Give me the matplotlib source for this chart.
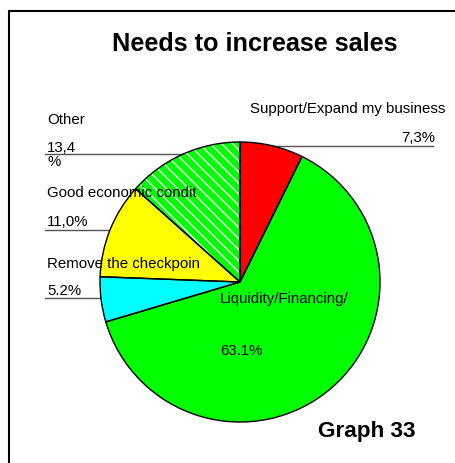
import matplotlib
matplotlib.use('Agg')
import matplotlib.pyplot as plt
from matplotlib.patches import Rectangle

plt.rcParams['font.family'] = ['Liberation Sans', 'DejaVu Sans']
plt.rcParams['hatch.linewidth'] = 1.0

# slices, clockwise from 12 o'clock
labels = ['Support/Expand my business', 'Liquidity/Financing/', 'Remove the checkpoin',
          'Good economic condit', 'Other']
values = [7.3, 63.1, 5.2, 11.0, 13.4]
dec_sep = [',', '.', '.', ',', ',']
colors = ['#FF0000', '#00FF00', '#00FFFF', '#FFFF00', '#00FF00']

W, H = 455, 463
fig = plt.figure(figsize=(W / 100, H / 100), dpi=100)
ax = fig.add_axes([0, 0, 1, 1])

def py(y):
    # pixel row -> data y
    return H - y

cx, cy, r = 240, py(282), 140

def pct(i):
    return ('%.1f' % values[i]).replace('.', dec_sep[i]) + '%'

# leader lines go under the pie
line_kw = dict(color='#555555', lw=1.0, zorder=1)
ax.plot([240, 433], [py(146), py(146)], **line_kw)
ax.plot([45, cx], [py(154), py(154)], **line_kw)
ax.plot([45, cx], [py(230), py(230)], **line_kw)
ax.plot([45, cx], [py(298), py(298)], **line_kw)

wedges, _ = ax.pie(values, colors=colors, startangle=90, counterclock=False,
                   center=(cx, cy), radius=r, frame=True,
                   wedgeprops=dict(linewidth=0))
for w in wedges:
    w.set_zorder(2)
wedges[4].set_hatch('\\\\\\')
wedges[4].set_edgecolor('white')

outline, _ = ax.pie(values, colors=['none'] * 5, startangle=90, counterclock=False,
                    center=(cx, cy), radius=r, frame=True,
                    wedgeprops=dict(linewidth=1.0, edgecolor='black', fill=False))
for w in outline:
    w.set_zorder(3)

fs = 10.8
tk = dict(fontsize=fs, color='black', va='baseline', zorder=4)
ax.text(250, py(113), labels[0], ha='left', **tk)
ax.text(435, py(142), pct(0), ha='right', **tk)
ax.text(47, py(124), labels[4], ha='left', **tk)
ax.text(47, py(152), pct(4)[:-1], ha='left', **tk)
ax.text(47, py(166), '%', ha='left', **tk)
ax.text(47, py(197), labels[3], ha='left', **tk)
ax.text(47, py(226), pct(3), ha='left', **tk)
ax.text(47, py(268), labels[2], ha='left', **tk)
ax.text(47, py(295), pct(2), ha='left', **tk)
ax.text(220, py(303), labels[1], ha='left', **tk)
ax.text(220, py(355), pct(1), ha='left', **tk)

ax.text(255, py(51), 'Needs to increase sales', ha='center', va='baseline',
        fontsize=18.2, fontweight='bold')
ax.text(318, py(437), 'Graph 33', ha='left', va='baseline',
        fontsize=16.2, fontweight='bold')

# outer frame
ax.add_patch(Rectangle((8.5, -10), W + 20, py(10.5) + 10, fill=False,
                       edgecolor='black', lw=1.5, zorder=5))

ax.set_xlim(0, W)
ax.set_ylim(0, H)
ax.set_aspect('equal')
ax.axis('off')

fig.savefig('out.png', dpi=100)
